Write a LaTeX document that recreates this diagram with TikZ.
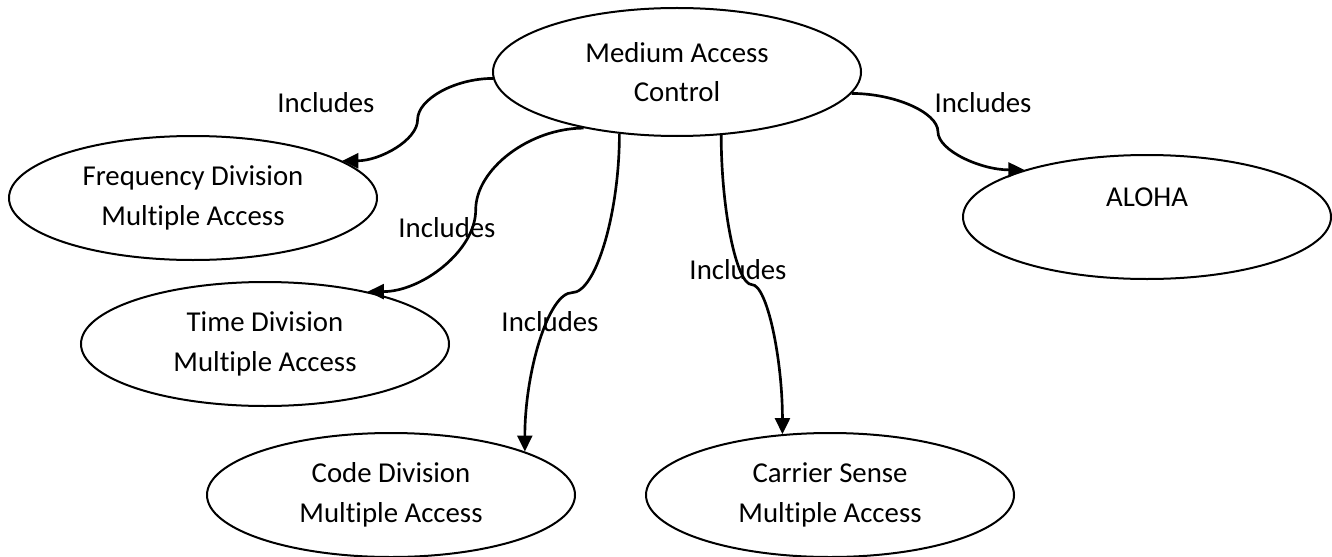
\documentclass[tikz,border=0pt]{standalone}
\usepackage{fontspec}
\setmainfont{Carlito}[Ligatures=NoCommon]
\usepackage{tikz}
\usetikzlibrary{arrows.meta,shapes.geometric,calc}

% curved connectors: leave sideways / leave downwards, bend at the middle
\tikzset{
  hcurve/.style={to path={let \p1=(\tikztostart), \p2=(\tikztotarget) in
    .. controls ({(3*(\x1)+(\x2))/4},\y1) and ({((\x1)+(\x2))/2},{(3*(\y1)+(\y2))/4}) .. ({((\x1)+(\x2))/2},{((\y1)+(\y2))/2})
    .. controls ({((\x1)+(\x2))/2},{((\y1)+3*(\y2))/4}) and ({((\x1)+3*(\x2))/4},\y2) .. (\p2)}},
  vcurve/.style={to path={let \p1=(\tikztostart), \p2=(\tikztotarget) in
    .. controls (\x1,{(3*(\y1)+(\y2))/4}) and ({(3*(\x1)+(\x2))/4},{((\y1)+(\y2))/2}) .. ({((\x1)+(\x2))/2},{((\y1)+(\y2))/2})
    .. controls ({((\x1)+3*(\x2))/4},{((\y1)+(\y2))/2}) and (\x2,{((\y1)+3*(\y2))/4}) .. (\p2)}}
}

\begin{document}
\begin{tikzpicture}[x=0.375pt, y=-0.375pt,
  every node/.style={font=\fontsize{10.8}{14.8}\selectfont},
  topic/.style={ellipse, draw, line width=0.75pt, minimum width=138pt, minimum height=46.5pt, inner sep=0pt, align=center},
  link/.style={-{Triangle[length=6pt,width=5.6pt]}, line width=1pt}]
  \useasboundingbox (0,0) rectangle (1332,556);

  % Topics
  \node[topic, minimum height=48pt] (mac) at (677,72) {Medium Access\\Control};
  \node[topic] (fdma) at (193,198) {Frequency Division\\Multiple Access};
  \node[topic] (aloha) at (1147,217) {ALOHA\\\mbox{}};
  \node[topic] (tdma) at (265,344) {Time Division\\Multiple Access};
  \node[topic] (cdma) at (391,495) {Code Division\\Multiple Access};
  \node[topic] (csma) at (830,495) {Carrier Sense\\Multiple Access};

  % Labels
  \node (incfdma) at (326,103) {Includes};
  \node (inctdma) at (447,228) {Includes};
  \node (inccdma) at (550,322) {Includes};
  \node (inccsma) at (738,270) {Includes};
  \node (incaloha) at (983,103) {Includes};

  % Links from the centre topic
  \draw[link] (mac.182) to[hcurve] (fdma.14);
  \draw[link] (mac.211) to[hcurve] (tdma.27);
  \draw[link] (mac.227) to[vcurve] (cdma.18);
  \draw[link] (mac.305) to[vcurve] (csma.128);
  \draw[link] (mac.353) to[hcurve] (aloha.159);

\end{tikzpicture}
\end{document}
